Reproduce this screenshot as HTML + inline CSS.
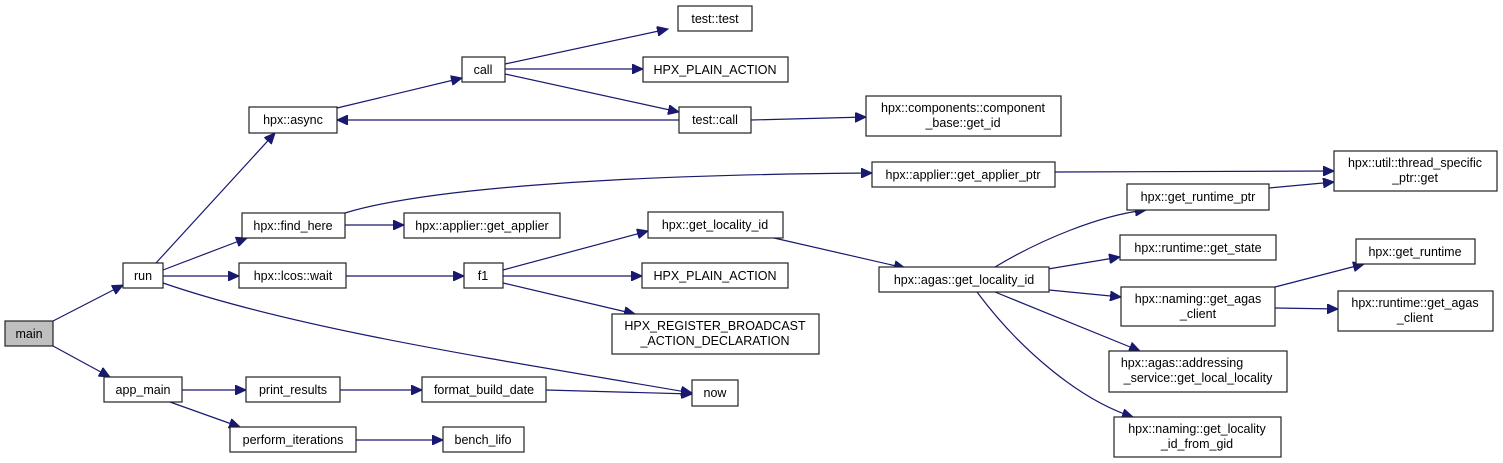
<!DOCTYPE html>
<html><head><meta charset="utf-8"><style>
html,body{margin:0;padding:0;background:#fff;}
svg{display:block;}
text{font-family:"Liberation Sans",Arial,sans-serif;font-size:12.5px;fill:#000;text-anchor:middle;}
rect{fill:#fff;stroke:#222;stroke-width:1.2;}
path{fill:none;stroke:#191970;stroke-width:1.2;}
</style></head><body>
<svg width="1503" height="463" viewBox="0 0 1503 463" xmlns="http://www.w3.org/2000/svg">
<defs><marker id="a" markerUnits="userSpaceOnUse" markerWidth="12" markerHeight="10" refX="11" refY="5" orient="auto"><polygon points="0,0 11,5 0,10" fill="#191970" stroke="#191970"/></marker></defs>
<g marker-end="url(#a)">
<path d="M53,321 L123,285"/>
<path d="M53,346 L110,377"/>
<path d="M156,263 L275,133"/>
<path d="M163,270 L247,238"/>
<path d="M163,276 L239,276"/>
<path d="M163,283 C300,330 500,360 692,393"/>
<path d="M337,108 L462,78"/>
<path d="M505,64 L668,29"/>
<path d="M505,69 L643,69"/>
<path d="M505,74 L679,112"/>
<path d="M679,120 L337,120"/>
<path d="M751,120 L866,117"/>
<path d="M345,213 C420,190 600,175 872,173"/>
<path d="M345,225 L404,225"/>
<path d="M346,276 L464,276"/>
<path d="M503,270 L648,231"/>
<path d="M503,276 L642,276"/>
<path d="M503,283 L635,314"/>
<path d="M774,238 L905,268"/>
<path d="M1055,172 L1334,171"/>
<path d="M1269,188 L1334,182"/>
<path d="M995,267 C1040,240 1100,215 1146,210"/>
<path d="M1048,269 L1120,257"/>
<path d="M1049,290 L1121,297"/>
<path d="M995,292 L1140,351"/>
<path d="M977,292 C1020,350 1080,400 1133,417"/>
<path d="M1275,287 L1364,264"/>
<path d="M1275,308 L1338,309"/>
<path d="M182,390 L246,390"/>
<path d="M170,402 L240,427"/>
<path d="M340,390 L422,390"/>
<path d="M546,390 L692,394"/>
<path d="M356,440 L443,440"/>
</g>
<rect x="5" y="321" width="48" height="25" style="fill:#bfbfbf"/><text x="29" y="338">main</text>
<rect x="123" y="263" width="40" height="25"/><text x="143" y="280">run</text>
<rect x="104" y="377" width="78" height="25"/><text x="143" y="394">app_main</text>
<rect x="249" y="107" width="88" height="26"/><text x="293" y="124">hpx::async</text>
<rect x="462" y="57" width="43" height="25"/><text x="483" y="74">call</text>
<rect x="678" y="6" width="74" height="25"/><text x="715" y="23">test::test</text>
<rect x="643" y="57" width="145" height="25"/><text x="715" y="74">HPX_PLAIN_ACTION</text>
<rect x="679" y="107" width="72" height="26"/><text x="715" y="124">test::call</text>
<rect x="866" y="96" width="195" height="40"/><text x="963" y="112">hpx::components::component</text><text x="963" y="127">_base::get_id</text>
<rect x="872" y="162" width="183" height="25"/><text x="963" y="179">hpx::applier::get_applier_ptr</text>
<rect x="1334" y="151" width="163" height="40"/><text x="1415" y="167">hpx::util::thread_specific</text><text x="1415" y="182">_ptr::get</text>
<rect x="242" y="213" width="103" height="25"/><text x="293" y="230">hpx::find_here</text>
<rect x="404" y="213" width="156" height="25"/><text x="482" y="230">hpx::applier::get_applier</text>
<rect x="648" y="212" width="135" height="26"/><text x="715" y="229">hpx::get_locality_id</text>
<rect x="1127" y="184" width="142" height="26"/><text x="1198" y="201">hpx::get_runtime_ptr</text>
<rect x="239" y="263" width="107" height="25"/><text x="293" y="280">hpx::lcos::wait</text>
<rect x="464" y="263" width="39" height="25"/><text x="483" y="280">f1</text>
<rect x="642" y="263" width="146" height="25"/><text x="715" y="280">HPX_PLAIN_ACTION</text>
<rect x="879" y="267" width="170" height="25"/><text x="964" y="284">hpx::agas::get_locality_id</text>
<rect x="1120" y="235" width="156" height="25"/><text x="1198" y="252">hpx::runtime::get_state</text>
<rect x="1356" y="239" width="119" height="25"/><text x="1415" y="256">hpx::get_runtime</text>
<rect x="612" y="314" width="207" height="40"/><text x="715" y="330">HPX_REGISTER_BROADCAST</text><text x="715" y="345">_ACTION_DECLARATION</text>
<rect x="1121" y="287" width="154" height="39"/><text x="1198" y="303">hpx::naming::get_agas</text><text x="1198" y="318">_client</text>
<rect x="1338" y="291" width="155" height="40"/><text x="1415" y="307">hpx::runtime::get_agas</text><text x="1415" y="322">_client</text>
<rect x="1109" y="351" width="178" height="41"/><text x="1182" y="367">hpx::agas::addressing</text><text x="1198" y="382">_service::get_local_locality</text>
<rect x="246" y="377" width="94" height="25"/><text x="293" y="394">print_results</text>
<rect x="422" y="377" width="124" height="25"/><text x="484" y="394">format_build_date</text>
<rect x="692" y="380" width="46" height="26"/><text x="715" y="397">now</text>
<rect x="230" y="427" width="126" height="25"/><text x="293" y="444">perform_iterations</text>
<rect x="443" y="427" width="81" height="25"/><text x="483" y="444">bench_lifo</text>
<rect x="1114" y="417" width="167" height="40"/><text x="1197" y="433">hpx::naming::get_locality</text><text x="1197" y="448">_id_from_gid</text>
</svg>
</body></html>
